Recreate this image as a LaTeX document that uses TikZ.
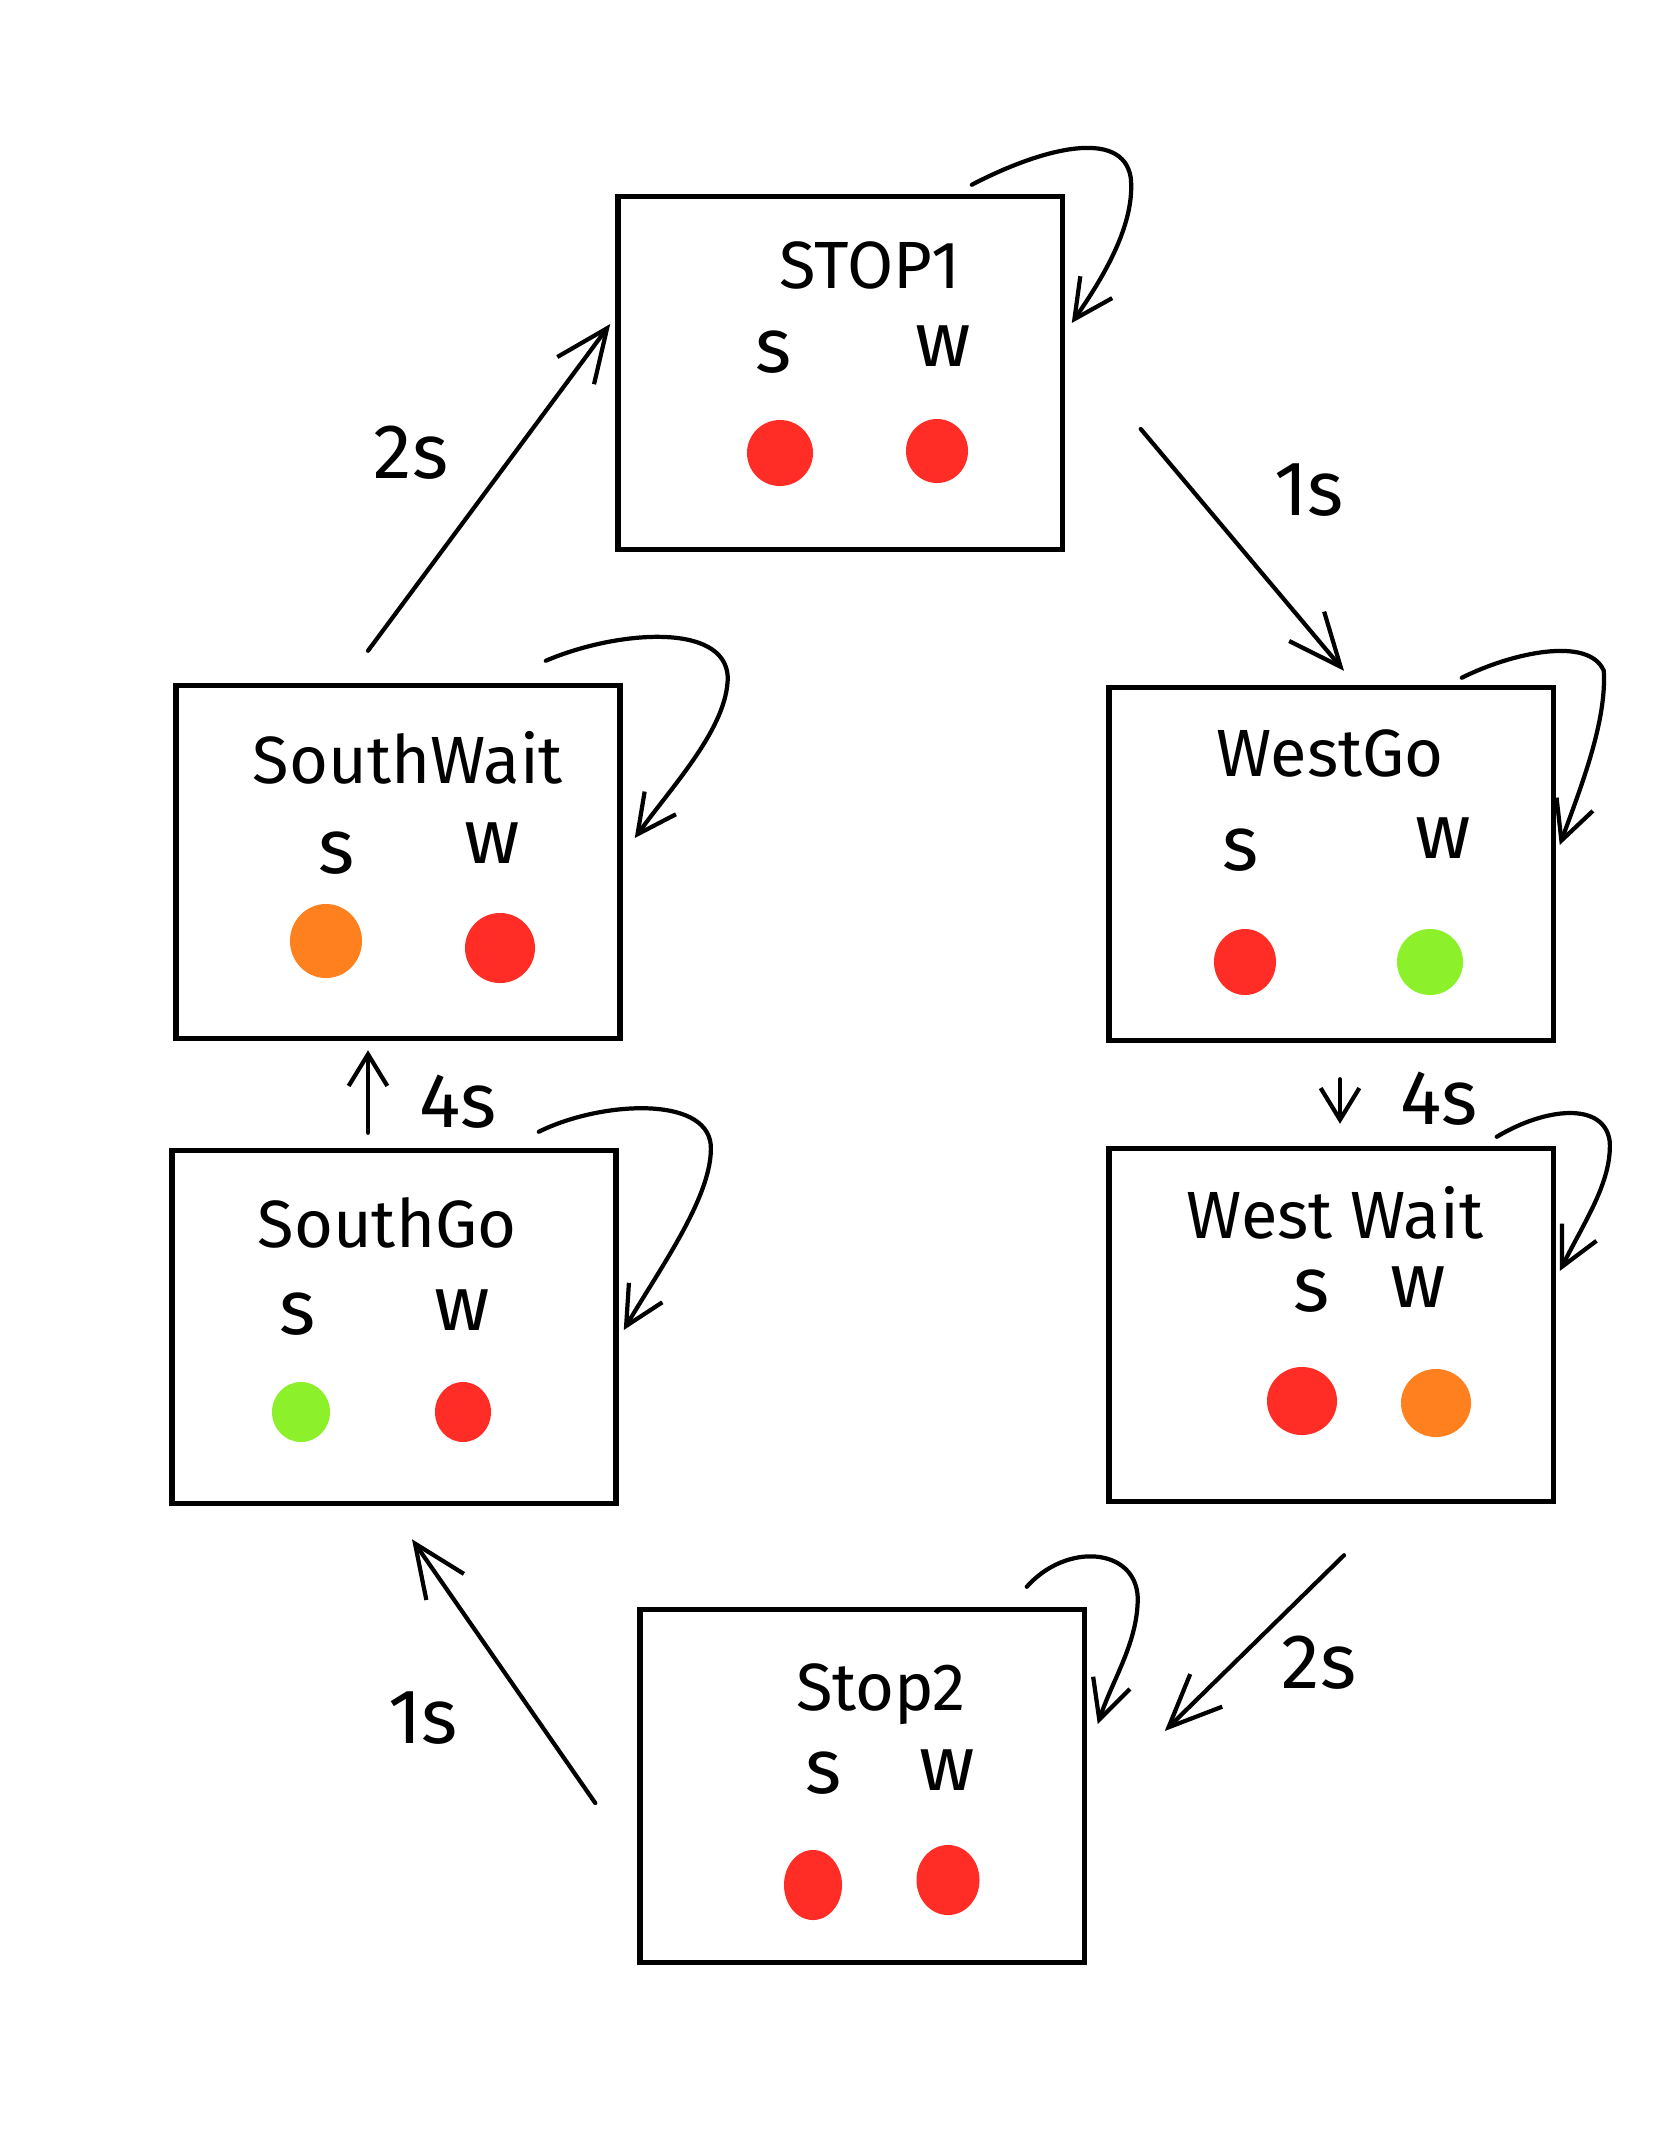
\documentclass[tikz,border=0pt]{standalone}
\usepackage{fontspec}
\setmainfont{Fira Sans}
\usepackage{tikz}
\usetikzlibrary{positioning, arrows.meta, calc, shapes.geometric}

\definecolor{lampred}{RGB}{255,45,38}
\definecolor{lampgreen}{RGB}{140,240,42}
\definecolor{lamporange}{RGB}{255,128,30}

\begin{document}
\begin{tikzpicture}[
    x=0.01cm, y=-0.01cm,
    state/.style={draw, line width=1.5pt, minimum width=4.44cm, minimum height=3.53cm, inner sep=0pt},
    stname/.style={font=\fontsize{19}{22}\selectfont, inner sep=1pt},
    lane/.style={font=\fontsize{22}{24}\selectfont, inner sep=1pt},
    lamp/.style={ellipse, inner sep=0pt, minimum width=0.62cm, minimum height=0.66cm},
    lbl/.style={font=\fontsize{22}{24}\selectfont, inner sep=1pt},
    arr/.style={-{Straight Barb[length=15pt, width=13pt]}, line width=1.2pt, line cap=round},
    arrS/.style={-{Straight Barb[length=9pt, width=11pt]}, line width=1.2pt, line cap=round},
    selfloop/.style={-{Straight Barb[length=11pt, width=11pt]}, line width=1.2pt, line cap=round},
]
\useasboundingbox (0,0) rectangle (1668,2154);

% STOP1
\node[state] (stopA) at (840,373) {};
\node[stname] (stopAname) at (870,265) {STOP1};
\node[lane] (stopAs) at (774,352) {s};
\node[lane] (stopAw) at (943,346) {w};
\node[lamp, fill=lampred, minimum width=0.66cm] (stopAsl) at (780,453) {};
\node[lamp, fill=lampred, minimum height=0.64cm] (stopAwl) at (937,451) {};

% WestGo
\node[state] (westGo) at (1331,864) {};
\node[stname] (westGoname) at (1330,753) {WestGo};
\node[lane] (westGos) at (1241,850) {s};
\node[lane] (westGow) at (1443,838) {w};
\node[lamp, fill=lampred] (westGosl) at (1245,962) {};
\node[lamp, fill=lampgreen, minimum width=0.66cm] (westGowl) at (1430,962) {};

% West Wait
\node[state] (westWait) at (1331,1325) {};
\node[stname] (westWaitname) at (1335,1213) {West Wait};
\node[lane] (westWaits) at (1312,1291) {s};
\node[lane] (westWaitw) at (1418,1287) {w};
\node[lamp, fill=lampred, minimum width=0.7cm, minimum height=0.68cm] (westWaitsl) at (1302,1401) {};
\node[lamp, fill=lamporange, minimum width=0.7cm, minimum height=0.68cm] (westWaitwl) at (1436,1403) {};

% Stop2
\node[state] (stopB) at (862,1786) {};
\node[stname] (stopBname) at (881,1694) {Stop2};
\node[lane] (stopBs) at (824,1773) {s};
\node[lane] (stopBw) at (947,1770) {w};
\node[lamp, fill=lampred, minimum width=0.58cm, minimum height=0.7cm] (stopBsl) at (813,1885) {};
\node[lamp, fill=lampred, minimum width=0.63cm, minimum height=0.7cm] (stopBwl) at (948,1880) {};

% SouthGo
\node[state] (southGo) at (394,1327) {};
\node[stname] (southGoname) at (387,1223) {SouthGo};
\node[lane] (southGos) at (298,1314) {s};
\node[lane] (southGow) at (462,1310) {w};
\node[lamp, fill=lampgreen, minimum width=0.58cm, minimum height=0.6cm] (southGosl) at (301,1412) {};
\node[lamp, fill=lampred, minimum width=0.56cm, minimum height=0.6cm] (southGowl) at (463,1412) {};

% SouthWait
\node[state] (southWait) at (398,862) {};
\node[stname] (southWaitname) at (408,758) {SouthWait};
\node[lane] (southWaits) at (337,853) {s};
\node[lane] (southWaitw) at (492,843) {w};
\node[lamp, fill=lamporange, minimum width=0.72cm, minimum height=0.74cm] (southWaitsl) at (326,941) {};
\node[lamp, fill=lampred, minimum width=0.7cm, minimum height=0.7cm] (southWaitwl) at (500,948) {};

% transitions
\draw[arr] ($(stopA.east)+(76,56)$) -- ($(westGo.north)+(13,-14)$);
\draw[arrS] ($(westGo.south)+(9,36)$) -- ($(westWait.north)+(9,-22)$);
\draw[arr] ($(westWait.south)+(13,51)$) -- ($(stopB.east)+(78,-55)$);
\draw[arr] ($(stopB.west)+(-42,17)$) -- ($(southGo.south)+(18,33)$);
\draw[arrS] ($(southGo.north)+(-26,-15)$) -- ($(southWait.south)+(-30,9)$);
\draw[arr] ($(southWait.north)+(-30,-32)$) -- ($(stopA.west)+(-5,-49)$);

\node[lbl] (tAB) at (1309,490) {1s};
\node[lbl] (tBC) at (1439,1099) {4s};
\node[lbl] (tCD) at (1319,1663) {2s};
\node[lbl] (tDE) at (423,1718) {1s};
\node[lbl] (tEF) at (458,1102) {4s};
\node[lbl] (tFA) at (411,453) {2s};

% self loops
\draw[selfloop] ($(stopA.north east)+(-93,-9)$) .. controls +(71,-37) and +(-8,-50) .. ($(stopA.north east)+(66,-16)$)
    .. controls +(5,50) and +(26,-38) .. ($(stopA.east)+(7,-50)$);
\draw[selfloop] ($(westGo.north east)+(-94,-7)$) .. controls +(50,-25) and +(-15,-35) .. ($(westGo.north east)+(48,-14)$)
    .. controls +(3,50) and +(22,-60) .. ($(westGo.east)+(4,-19)$);
\draw[selfloop] ($(westWait.north east)+(-59,-9)$) .. controls +(50,-30) and +(-5,-40) .. ($(westWait.north east)+(54,-4)$)
    .. controls +(2,40) and +(25,-50) .. ($(westWait.east)+(4,-54)$);
\draw[selfloop] ($(stopB.north east)+(-60,-20)$) .. controls +(40,-45) and +(-2,-50) .. ($(stopB.north east)+(51,-9)$)
    .. controls +(0,45) and +(15,-45) .. ($(stopB.east)+(11,-62)$);
\draw[selfloop] ($(southGo.north east)+(-80,-16)$) .. controls +(60,-30) and +(-5,-50) .. ($(southGo.north east)+(92,-3)$)
    .. controls +(3,50) and +(35,-60) .. ($(southGo.east)+(5,3)$);
\draw[selfloop] ($(southWait.north east)+(-77,-22)$) .. controls +(70,-30) and +(-3,-55) .. ($(southWait.north east)+(105,-6)$)
    .. controls +(0,50) and +(40,-55) .. ($(southWait.east)+(12,-24)$);

\end{tikzpicture}
\end{document}
